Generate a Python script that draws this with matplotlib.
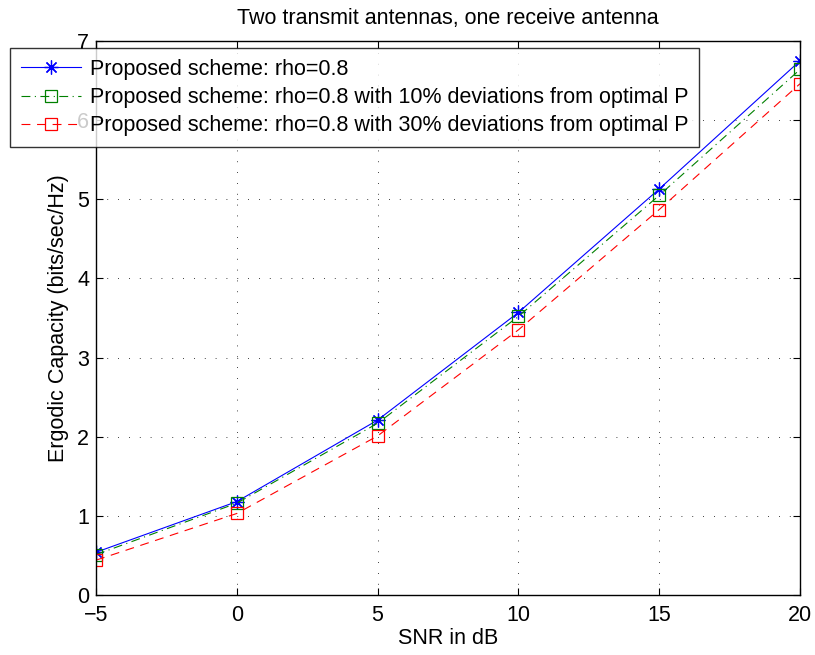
# Ergodic capacity vs SNR, two transmit / one receive antenna
import numpy as np
import matplotlib
matplotlib.use('Agg')
import matplotlib.pyplot as plt

plt.rcParams['font.family'] = ['Liberation Sans', 'DejaVu Sans']

# data
snr = [-5, 0, 5, 10, 15, 20]
cap_opt = [0.54, 1.18, 2.21, 3.57, 5.13, 6.75]
cap_10 = [0.51, 1.16, 2.17, 3.52, 5.05, 6.64]
cap_30 = [0.44, 1.03, 2.01, 3.35, 4.87, 6.46]

labels = ['Proposed scheme: rho=0.8',
          'Proposed scheme: rho=0.8 with 10% deviations from optimal P',
          'Proposed scheme: rho=0.8 with 30% deviations from optimal P']

fs = 15.5

fig = plt.figure(figsize=(8.15, 6.55), dpi=100)
ax = fig.add_axes([96 / 815, 1 - 595 / 655, 704 / 815, 554 / 655])

ax.plot(snr, cap_opt, color='blue', linestyle='-', marker=(8, 2, 0), markersize=10,
        linewidth=0.8, markeredgewidth=0.9, label=labels[0])
ax.plot(snr, cap_10, color='green', linestyle='-.', dashes=(8, 4, 1, 4), marker='s',
        markersize=8, linewidth=0.8, markerfacecolor='none', markeredgewidth=0.9,
        label=labels[1])
ax.plot(snr, cap_30, color='red', linestyle='--', dashes=(8, 6), marker='s', markersize=8,
        linewidth=0.8, markerfacecolor='none', markeredgewidth=0.9, label=labels[2])

ax.set_xlim(-5, 20)
ax.set_ylim(0, 7)
ax.set_xticks([-5, 0, 5, 10, 15, 20])
ax.set_yticks(range(0, 8))
ax.set_xticklabels(['\u22125', '0', '5', '10', '15', '20'])
ax.tick_params(axis='both', direction='in', top=True, right=True, labelsize=fs,
               length=5, width=0.8)
ax.tick_params(axis='x', pad=7)
ax.tick_params(axis='y', pad=5)
ax.grid(True, color='black', linestyle=(0, (1, 12)), linewidth=0.6)
for s in ax.spines.values():
    s.set_linewidth(1.0)

ax.set_xlabel('SNR in dB', fontsize=fs, labelpad=2)
ax.set_ylabel('Ergodic Capacity (bits/sec/Hz)', fontsize=fs, labelpad=6)
ax.set_title('Two transmit antennas, one receive antenna', fontsize=fs, pad=12)

leg = ax.legend(loc='upper left', bbox_to_anchor=(10 / 815, 1 - 48 / 655),
                bbox_transform=fig.transFigure, fontsize=fs, frameon=True,
                fancybox=False, borderaxespad=0, borderpad=0.5, handlelength=2.8,
                handletextpad=0.4, labelspacing=0.34)
leg.get_frame().set_edgecolor('black')
leg.get_frame().set_linewidth(1.0)

fig.savefig('out.png', dpi=100)
